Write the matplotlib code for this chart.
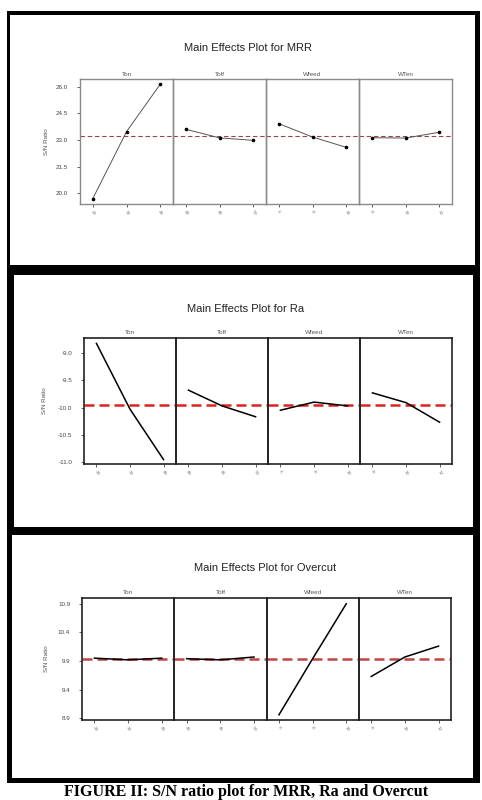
import matplotlib
matplotlib.use("Agg")
import matplotlib.pyplot as plt
from matplotlib.patches import Rectangle

W, H = 482, 800

factors = ["Ton", "Toff", "Wfeed", "WTen"]
levels = {
    "Ton": ["20", "30", "40"],
    "Toff": ["40", "45", "50"],
    "Wfeed": ["6", "8", "10"],
    "WTen": ["8", "10", "12"],
}

# MRR S/N ratio means
mrr_ton = [19.66, 23.47, 26.17]
mrr_toff = [23.61, 23.12, 22.98]
mrr_wfeed = [23.93, 23.17, 22.58]
mrr_wten = [23.13, 23.11, 23.44]
mrr_mean = 23.23
mrr_ticks = [20.0, 21.5, 23.0, 24.5, 26.0]

# Ra S/N ratio means
ra_ton = [-8.82, -10.03, -10.96]
ra_toff = [-9.68, -9.97, -10.17]
ra_wfeed = [-10.05, -9.90, -9.97]
ra_wten = [-9.73, -9.91, -10.27]
ra_mean = -9.96
ra_ticks = [-11.0, -10.5, -10.0, -9.5, -9.0]

# Overcut S/N ratio means
oc_ton = [9.95, 9.92, 9.95]
oc_toff = [9.94, 9.92, 9.97]
oc_wfeed = [8.96, 9.94, 10.90]
oc_wten = [9.63, 9.97, 10.16]
oc_mean = 9.937
oc_ticks = [8.9, 9.4, 9.9, 10.4, 10.9]

fig = plt.figure(figsize=(W / 100, H / 100), dpi=100)
fig.patch.set_facecolor("white")


def rect_px(x0, y0, x1, y1, color):
    fig.patches.append(Rectangle((x0 / W, 1 - y1 / H), (x1 - x0) / W, (y1 - y0) / H,
                                 transform=fig.transFigure, facecolor=color,
                                 edgecolor="none", zorder=-10))


# black frames
rect_px(7, 11, 480, 783, "black")
rect_px(10, 15, 475, 265, "white")
rect_px(14, 275, 473, 527, "white")
rect_px(12, 535, 473, 778, "white")


def panel(title, title_x, title_y, left, right, top, bottom, data, mean, ticks,
          ylim, style, ylab_x):
    n = len(factors)
    width = (right - left) / n
    fig.text(title_x / W, 1 - title_y / H, title, ha="center",
             va="center", fontsize=8, family="Liberation Sans", color="#222",
             zorder=5)
    fig.text(ylab_x / W, 1 - ((top + bottom) / 2) / H, "S/N Ratio", rotation=90,
             ha="center", va="center", fontsize=4.5, color="#555",
             family="Liberation Sans", zorder=5)
    for i, f in enumerate(factors):
        x0 = left + i * width
        ax = fig.add_axes([x0 / W, 1 - bottom / H, width / W, (bottom - top) / H])
        ax.set_zorder(2)
        ax.set_facecolor("none")
        xs = [1, 2, 3]
        if style == "thin":
            ax.plot(xs, data[i], color="#555555", lw=0.7, marker="o",
                    ms=1.6, mfc="black", mec="black", zorder=3)
            ax.axhline(mean, color="#a0404a", lw=0.8, ls=(0, (4, 2.5)), zorder=2)
            spc, slw = "#8a8a8a", 1.0
        else:
            ax.plot(xs, data[i], color="black", lw=1.1, zorder=3)
            ax.axhline(mean, color="#dd2222" if style == "red" else "#c04545",
                       lw=1.8, ls=(0, (4, 2)), zorder=2)
            spc, slw = "#222222", 1.2
        for s in ax.spines.values():
            s.set_color(spc)
            s.set_linewidth(slw)
        ax.set_xlim(0.63, 3.37)
        ax.set_ylim(*ylim)
        ax.set_xticks(xs)
        ax.set_xticklabels(levels[f], rotation=-60, fontsize=3.2, color="#777")
        ax.tick_params(axis="x", length=2, width=0.6, pad=2, colors="#444",
                       labelcolor="#777")
        if i == 0:
            ax.set_yticks(ticks)
            ax.set_yticklabels([f"{t:.1f}" for t in ticks], fontsize=4.5,
                               color="#444", family="Liberation Sans")
            ax.tick_params(axis="y", length=2.5, width=0.6, pad=6, colors="#444",
                           labelcolor="#444")
        else:
            ax.set_yticks([])
        fig.text((x0 + width / 2) / W, 1 - (top - 5) / H, f, ha="center",
                 va="center", fontsize=4.5, color="#555", family="Liberation Sans",
                 zorder=5)


panel("Main Effects Plot for MRR", 248, 48, 80, 452, 79, 204,
      [mrr_ton, mrr_toff, mrr_wfeed, mrr_wten], mrr_mean, mrr_ticks,
      (19.38, 26.45), "thin", 46)
panel("Main Effects Plot for Ra", 246, 309, 84, 452, 338, 464,
      [ra_ton, ra_toff, ra_wfeed, ra_wten], ra_mean, ra_ticks,
      (-11.04, -8.72), "red", 45)
panel("Main Effects Plot for Overcut", 265, 568, 82, 451, 598, 720,
      [oc_ton, oc_toff, oc_wfeed, oc_wten], oc_mean, oc_ticks,
      (8.87, 11.0), "dark", 47)

fig.text(246 / W, 1 - 799.5 / H, "FIGURE II: S/N ratio plot for MRR, Ra and Overcut",
         ha="center", va="bottom", fontsize=11.5, fontweight="bold",
         family="Liberation Serif", color="black")

fig.savefig("out.png", dpi=100)
